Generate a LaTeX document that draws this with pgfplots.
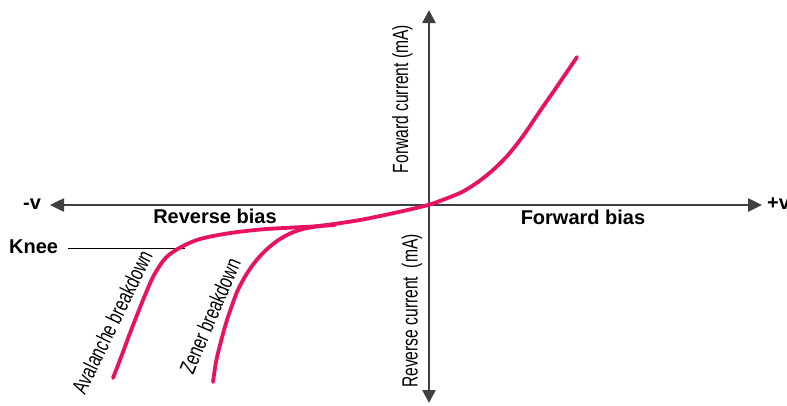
\documentclass[border=0pt]{standalone}
\usepackage{pgfplots}
\pgfplotsset{compat=1.18}
\usepackage{graphicx}
\usepackage{fontspec}
\setmainfont{Liberation Sans}
\usetikzlibrary{arrows.meta}
\definecolor{curve}{RGB}{232,18,96}
\definecolor{axgray}{RGB}{64,64,64}
\begin{document}
\begin{tikzpicture}
\begin{axis}[
  scale only axis, width=787pt, height=405pt,
  xmin=0, xmax=787, ymin=0, ymax=405, y dir=reverse,
  hide axis, clip=false]
\coordinate (ll) at (axis cs:0,405);
\coordinate (ur) at (axis cs:787,0);
% axes
\addplot[draw=axgray, line width=2.5pt, {Triangle[length=14pt,width=13pt]}-{Triangle[length=14pt,width=13pt]}]
  coordinates {(50,205) (762,205)};
\addplot[draw=axgray, line width=2.5pt, {Triangle[length=13pt,width=13pt]}-{Triangle[length=13pt,width=13pt]}]
  coordinates {(429,10) (429,403)};
% knee line
\addplot[black, line width=1pt] coordinates {(68,248) (185,248)};
% main curve
\addplot[curve, line width=3.8pt, smooth, line cap=round] coordinates {
 (113,378)(123,352)(130,333)(143,300)(152,279)(157,270)(163,261)(170,254)
 (183,246)(200,239)(227,233.5)(260,229.5)(293,227.5)(320,225.8)(360,220)
 (400,211.7)(428,205)(445,199)(462,192)(478,182)(493,170)(508,155)(523,136)
 (540,111)(558,85)(577,57)};
% zener branch
\addplot[curve, line width=3.8pt, smooth, line cap=round] coordinates {
 (213,382)(216,362)(220,345)(227,320)(237,292)(246,275)(255,262)(265,251)
 (277,241)(290,233.5)(303,229)(318,226.3)(335,225)};
% labels
\node[anchor=base, font=\fontsize{20}{24}\selectfont\bfseries] at (axis cs:215,223) {Reverse bias};
\node[anchor=base, font=\fontsize{20}{24}\selectfont\bfseries] at (axis cs:583,224) {Forward bias};
\node[anchor=base west, inner sep=0pt, font=\fontsize{20}{24}\selectfont\bfseries] at (axis cs:9,253) {Knee};
\node[anchor=base west, inner sep=0pt, font=\fontsize{20}{24}\selectfont\bfseries] at (axis cs:23,209) {-v};
\node[anchor=base west, inner sep=0pt, font=\fontsize{20}{24}\selectfont\bfseries] at (axis cs:767,209) {+v};
\node[rotate=90, inner sep=0pt, font=\fontsize{22}{26}\selectfont] at (axis cs:402.5,99) {\scalebox{0.71}[1]{Forward current (mA)}};
\node[rotate=90, inner sep=0pt, font=\fontsize{22}{26}\selectfont] at (axis cs:412,311) {\scalebox{0.71}[1]{Reverse current\ \ (mA)}};
\node[rotate=64, inner sep=0pt, font=\fontsize{22}{26}\selectfont] at (axis cs:112,322) {\scalebox{0.72}[1]{Avalanche breakdown}};
\node[rotate=67, inner sep=0pt, font=\fontsize{22}{26}\selectfont] at (axis cs:210,316) {\scalebox{0.72}[1]{Zener breakdown}};
\end{axis}
\pgfresetboundingbox
\useasboundingbox (ll) rectangle (ur);
\end{tikzpicture}
\end{document}
